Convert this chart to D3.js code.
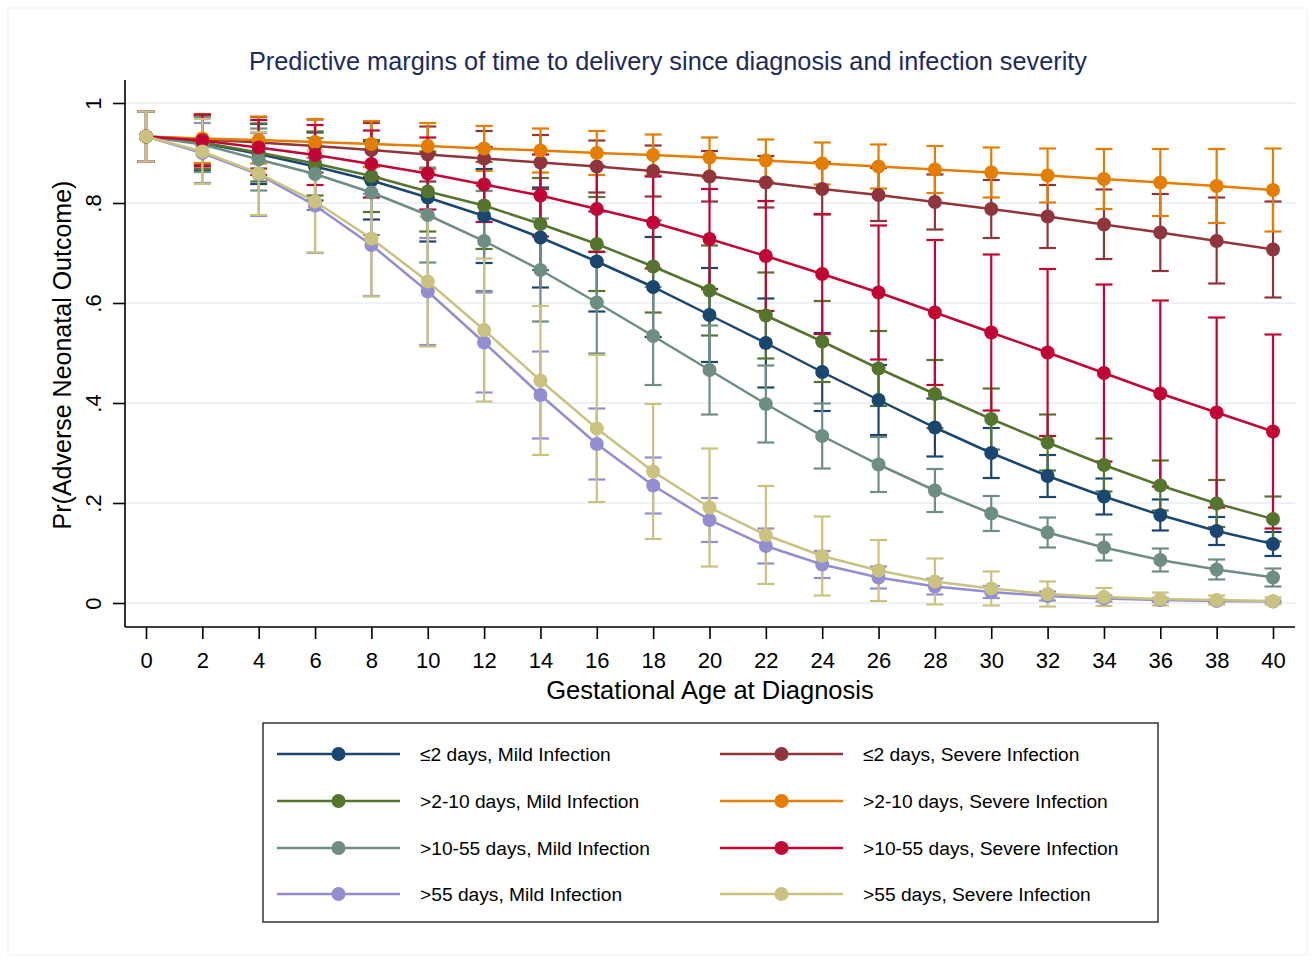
<!DOCTYPE html>
<html><head><meta charset="utf-8">
<script src="https://cdn.jsdelivr.net/npm/d3@7"></script>
<style>body{margin:0;background:#fff;} svg text{font-family:"Liberation Sans",Arial,Helvetica,sans-serif;}</style>
</head><body><svg id="chart" width="1315" height="963"></svg>
<script>
// ---------------- data ----------------
const gestAge = [0,2,4,6,8,10,12,14,16,18,20,22,24,26,28,30,32,34,36,38,40];
const xTickLabels = ["0","2","4","6","8","10","12","14","16","18","20","22","24","26","28","30","32","34","36","38","40"];
const yTickValues = [0,0.2,0.4,0.6,0.8,1];
const yTickLabels = ["0",".2",".4",".6",".8","1"];

const seriesNames = ["≤2 days, Mild Infection","≤2 days, Severe Infection",">2-10 days, Mild Infection",">2-10 days, Severe Infection",">10-55 days, Mild Infection",">10-55 days, Severe Infection",">55 days, Mild Infection",">55 days, Severe Infection"];
const seriesColors = ["#1a476f","#90353b","#55752f","#e37e00","#6e8e84","#c10534","#938dd2","#cac27e"];

const le2Mild      = [0.933,0.920,0.898,0.873,0.845,0.811,0.774,0.731,0.683,0.632,0.576,0.520,0.462,0.406,0.351,0.300,0.254,0.213,0.176,0.144,0.118];
const le2MildLo    = [0.883,0.865,0.838,0.805,0.767,0.723,0.680,0.631,0.583,0.532,0.482,0.431,0.384,0.336,0.293,0.250,0.212,0.177,0.145,0.116,0.094];
const le2MildHi    = [0.983,0.975,0.958,0.941,0.923,0.899,0.868,0.831,0.783,0.732,0.670,0.609,0.540,0.476,0.409,0.350,0.296,0.249,0.207,0.172,0.142];

const le2Severe    = [0.933,0.927,0.921,0.914,0.906,0.897,0.889,0.881,0.873,0.864,0.853,0.841,0.828,0.816,0.802,0.788,0.773,0.757,0.741,0.724,0.707];
const le2SevereLo  = [0.883,0.876,0.869,0.861,0.852,0.843,0.835,0.828,0.821,0.813,0.803,0.791,0.777,0.764,0.747,0.730,0.710,0.688,0.664,0.639,0.611];
const le2SevereHi  = [0.983,0.977,0.972,0.967,0.960,0.953,0.944,0.936,0.925,0.915,0.904,0.894,0.882,0.870,0.857,0.846,0.836,0.827,0.818,0.811,0.803];

const d2to10Mild     = [0.933,0.921,0.901,0.879,0.854,0.823,0.795,0.758,0.718,0.673,0.625,0.575,0.523,0.469,0.418,0.368,0.321,0.276,0.235,0.199,0.168];
const d2to10MildLo   = [0.883,0.868,0.843,0.815,0.782,0.743,0.708,0.666,0.624,0.581,0.535,0.489,0.442,0.394,0.350,0.307,0.265,0.223,0.185,0.152,0.123];
const d2to10MildHi   = [0.983,0.974,0.959,0.943,0.926,0.903,0.882,0.850,0.812,0.765,0.715,0.661,0.604,0.544,0.486,0.429,0.377,0.329,0.285,0.246,0.213];

const d2to10Severe   = [0.933,0.929,0.926,0.922,0.918,0.914,0.909,0.905,0.900,0.896,0.891,0.885,0.879,0.873,0.867,0.861,0.855,0.848,0.841,0.834,0.826];
const d2to10SevereLo = [0.883,0.880,0.879,0.876,0.872,0.868,0.864,0.861,0.856,0.855,0.851,0.843,0.837,0.829,0.820,0.811,0.801,0.788,0.774,0.760,0.743];
const d2to10SevereHi = [0.983,0.978,0.973,0.968,0.964,0.960,0.954,0.949,0.944,0.937,0.931,0.927,0.921,0.917,0.914,0.911,0.909,0.908,0.908,0.908,0.909];

const d10to55Mild     = [0.933,0.917,0.887,0.858,0.821,0.776,0.724,0.666,0.601,0.534,0.466,0.398,0.334,0.277,0.225,0.179,0.141,0.111,0.086,0.067,0.051];
const d10to55MildLo   = [0.883,0.862,0.825,0.786,0.736,0.681,0.624,0.563,0.499,0.436,0.377,0.321,0.269,0.222,0.182,0.144,0.111,0.085,0.063,0.047,0.033];
const d10to55MildHi   = [0.983,0.972,0.949,0.930,0.906,0.871,0.824,0.769,0.703,0.632,0.555,0.475,0.399,0.332,0.268,0.214,0.171,0.137,0.109,0.087,0.069];

const d10to55Severe   = [0.933,0.925,0.911,0.896,0.878,0.859,0.837,0.815,0.788,0.761,0.728,0.694,0.658,0.621,0.581,0.541,0.501,0.460,0.419,0.381,0.343];
const d10to55SevereLo = [0.883,0.873,0.856,0.836,0.811,0.787,0.762,0.733,0.702,0.669,0.628,0.584,0.538,0.487,0.436,0.385,0.334,0.283,0.233,0.191,0.149];
const d10to55SevereHi = [0.983,0.977,0.966,0.956,0.945,0.931,0.912,0.897,0.874,0.853,0.828,0.804,0.778,0.755,0.726,0.697,0.668,0.637,0.605,0.571,0.537];

const gt55Mild     = [0.933,0.900,0.857,0.795,0.716,0.623,0.521,0.416,0.318,0.235,0.166,0.114,0.077,0.051,0.033,0.022,0.014,0.009,0.006,0.004,0.003];
const gt55MildLo   = [0.883,0.840,0.774,0.700,0.614,0.516,0.421,0.329,0.247,0.179,0.122,0.079,0.050,0.029,0.017,0.010,0.005,0.003,0.002,0.001,0.001];
const gt55MildHi   = [0.983,0.960,0.940,0.890,0.818,0.730,0.621,0.503,0.389,0.291,0.210,0.149,0.104,0.073,0.049,0.034,0.023,0.015,0.010,0.007,0.005];

const gt55Severe   = [0.933,0.903,0.859,0.803,0.729,0.643,0.546,0.445,0.349,0.263,0.191,0.136,0.094,0.065,0.043,0.029,0.018,0.012,0.008,0.006,0.004];
const gt55SevereLo = [0.883,0.838,0.776,0.701,0.613,0.513,0.403,0.296,0.202,0.128,0.073,0.038,0.015,0.004,-0.003,-0.005,-0.007,-0.006,-0.005,-0.003,-0.003];
const gt55SevereHi = [0.983,0.968,0.942,0.905,0.845,0.773,0.689,0.594,0.496,0.398,0.309,0.234,0.173,0.126,0.089,0.063,0.043,0.030,0.021,0.015,0.011];

const seriesValues = [le2Mild,le2Severe,d2to10Mild,d2to10Severe,d10to55Mild,d10to55Severe,gt55Mild,gt55Severe];
const seriesLower  = [le2MildLo,le2SevereLo,d2to10MildLo,d2to10SevereLo,d10to55MildLo,d10to55SevereLo,gt55MildLo,gt55SevereLo];
const seriesUpper  = [le2MildHi,le2SevereHi,d2to10MildHi,d2to10SevereHi,d10to55MildHi,d10to55SevereHi,gt55MildHi,gt55SevereHi];

// ---------------- chart ----------------
const svg = d3.select("#chart");
const plotLeft = 125, plotRight = 1295, plotTop = 80, plotBottom = 627;
const x = d3.scaleLinear().domain([0,40]).range([146,1273]);
const y = d3.scaleLinear().domain([0,1]).range([603,103]);

svg.append("rect").attr("x",8).attr("y",8).attr("width",1299).attr("height",947)
  .attr("fill","#fff").attr("stroke","#eeeeee").attr("stroke-width",1);

// gridlines
svg.append("g").selectAll("line").data(yTickValues).join("line")
  .attr("x1",plotLeft).attr("x2",plotRight)
  .attr("y1",d=>y(d)).attr("y2",d=>y(d))
  .attr("stroke","#e6eef2").attr("stroke-width",1.6);

// axes
const yAxis = d3.axisLeft(y).tickValues(yTickValues).tickFormat((d,i)=>yTickLabels[i]).tickSize(12).tickPadding(6);
const gy = svg.append("g").attr("transform",`translate(${plotLeft},0)`).call(yAxis);
gy.select(".domain").attr("d",`M0,${plotTop}V${plotBottom}`).attr("stroke","#000").attr("stroke-width",1.6);
gy.selectAll(".tick line").attr("stroke","#000").attr("stroke-width",1.6);
gy.selectAll(".tick text").attr("x",0).attr("dy",0).attr("text-anchor","middle")
  .attr("transform","translate(-24,0) rotate(-90)").attr("font-size",22).attr("fill","#000");

const xAxis = d3.axisBottom(x).tickValues(gestAge).tickFormat((d,i)=>xTickLabels[i]).tickSize(12).tickPadding(8);
const gx = svg.append("g").attr("transform",`translate(0,${plotBottom})`).call(xAxis);
gx.select(".domain").attr("d",`M${plotLeft},0H${plotRight}`).attr("stroke","#000").attr("stroke-width",1.6);
gx.selectAll(".tick line").attr("stroke","#000").attr("stroke-width",1.6);
gx.selectAll(".tick text").attr("font-size",22).attr("fill","#000").attr("dy",0).attr("y",41);

// axis titles and title
svg.append("text").attr("x",710).attr("y",699).attr("text-anchor","middle")
  .attr("font-size",25.5).attr("fill","#000").text("Gestational Age at Diagnosis");
svg.append("text").attr("transform","translate(71,355) rotate(-90)").attr("text-anchor","middle")
  .attr("font-size",25).attr("fill","#000").text("Pr(Adverse Neonatal Outcome)");
svg.append("text").attr("x",668).attr("y",70).attr("text-anchor","middle")
  .attr("font-size",25.3).attr("fill","#1c2a5c").text("Predictive margins of time to delivery since diagnosis and infection severity");

// confidence intervals (drawn first)
const capHalf = 8.5;
seriesValues.forEach((vals,s)=>{
  const g = svg.append("g").attr("stroke",seriesColors[s]).attr("stroke-width",2.2);
  const lo = seriesLower[s], hi = seriesUpper[s];
  gestAge.forEach((a,i)=>{
    g.append("line").attr("x1",x(a)).attr("x2",x(a)).attr("y1",y(lo[i])).attr("y2",y(hi[i]));
    g.append("line").attr("x1",x(a)-capHalf).attr("x2",x(a)+capHalf).attr("y1",y(lo[i])).attr("y2",y(lo[i]));
    g.append("line").attr("x1",x(a)-capHalf).attr("x2",x(a)+capHalf).attr("y1",y(hi[i])).attr("y2",y(hi[i]));
  });
});

// lines + markers
const lineGen = d3.line().x((d,i)=>x(gestAge[i])).y(d=>y(d));
seriesValues.forEach((vals,s)=>{
  svg.append("path").datum(vals).attr("d",lineGen).attr("fill","none")
    .attr("stroke",seriesColors[s]).attr("stroke-width",2.5);
  svg.append("g").selectAll("circle").data(vals).join("circle")
    .attr("cx",(d,i)=>x(gestAge[i])).attr("cy",d=>y(d)).attr("r",7)
    .attr("fill",seriesColors[s]);
});

// legend
svg.append("rect").attr("x",263).attr("y",723).attr("width",895).attr("height",199)
  .attr("fill","#fff").attr("stroke","#333").attr("stroke-width",1.5);
const legRows = [754,801,848,894];
const legCols = [{x1:277,x2:400,text:420},{x1:720,x2:843,text:863}];
seriesNames.forEach((name,s)=>{
  const col = legCols[s%2], ry = legRows[Math.floor(s/2)];
  const g = svg.append("g");
  g.append("line").attr("x1",col.x1).attr("x2",col.x2).attr("y1",ry).attr("y2",ry)
    .attr("stroke",seriesColors[s]).attr("stroke-width",2.5);
  g.append("circle").attr("cx",(col.x1+col.x2)/2).attr("cy",ry).attr("r",7).attr("fill",seriesColors[s]);
  g.append("text").attr("x",col.text).attr("y",ry+7).attr("font-size",19.2).attr("fill","#000").text(name);
});
</script></body></html>
